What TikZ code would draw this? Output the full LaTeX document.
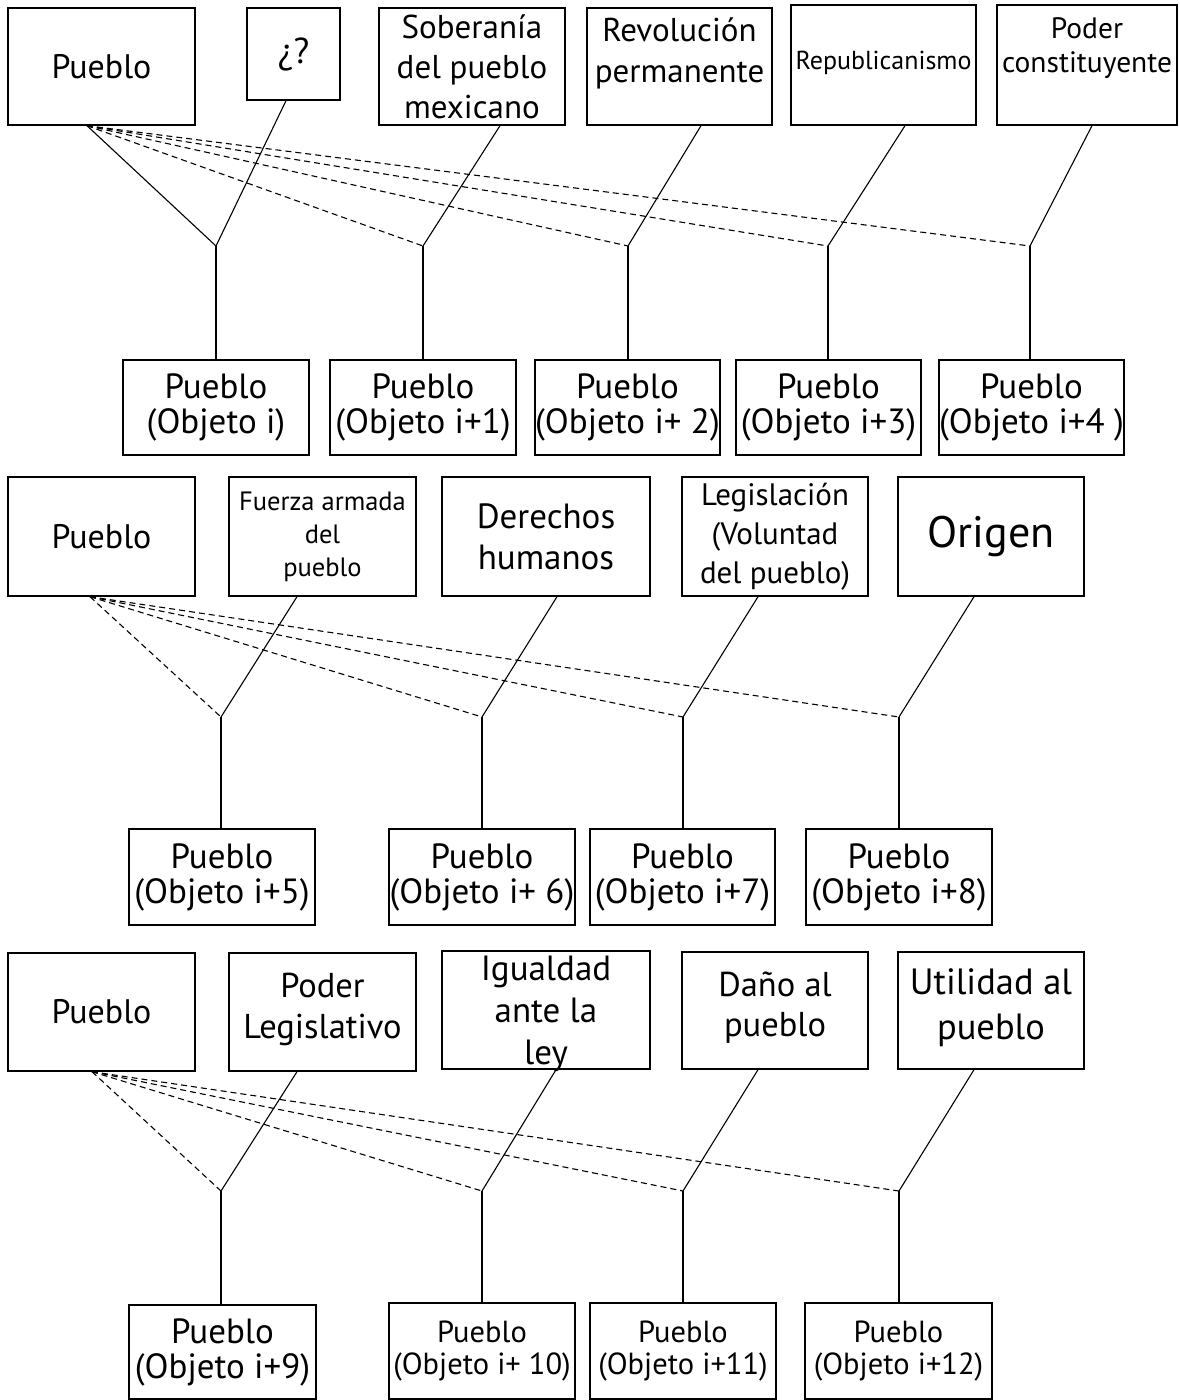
\documentclass[tikz,border=0pt]{standalone}
\usepackage{fontspec}
\setmainfont{PT Sans}
\usetikzlibrary{calc}
\newcommand\fsz[2]{\fontsize{#1}{#2}\selectfont}

\begin{document}
\begin{tikzpicture}[x=1pt,y=-1pt,
  box/.style={draw, line width=1.4pt, inner sep=0pt, align=center, font=\fsz{33}{40}},
  obj/.style={box, font=\fsz{35}{35}},
  lab/.style={align=center, inner sep=0pt},
  conn/.style={line width=1.1pt},
  dconn/.style={line width=1.1pt, dash pattern=on 6pt off 4pt},
]
\useasboundingbox (0,0) rectangle (1179,1400);
\fill[white] (0,0) rectangle (1179,1400);

% ---------------- first group ----------------
\node[box, minimum width=187pt, minimum height=117pt, font=\fsz{34}{40}] (pa) at (101.5,66.5) {Pueblo};
\node[box, minimum width=93pt, minimum height=92pt, font=\fsz{36}{40}] (qa) at (293.5,54) {¿?};
\node[box, minimum width=186pt, minimum height=117pt] (sob) at (472,66.5) {Soberanía\\del pueblo\\mexicano};
\node[box, minimum width=185pt, minimum height=117pt,
  label={[lab, yshift=13pt, font=\fsz{33}{41}]center:Revolución\\permanente}] (rev) at (679.5,66.5) {};
\node[box, minimum width=185pt, minimum height=120pt,
  label={[lab, yshift=2pt, font=\fsz{26}{30}]center:Republicanismo}] (rep) at (883.5,65) {};
\node[box, minimum width=180pt, minimum height=120pt,
  label={[lab, yshift=17pt, font=\fsz{29.5}{34}]center:Poder\\constituyente}] (pc) at (1087,65) {};

\node[obj, minimum width=186pt, minimum height=95pt] (oa0) at (216,407.5) {Pueblo\\(Objeto i)};
\node[obj, minimum width=186pt, minimum height=95pt] (oa1) at (423,407.5) {Pueblo\\(Objeto i+1)};
\node[obj, minimum width=185pt, minimum height=95pt] (oa2) at (627.5,407.5) {Pueblo\\(Objeto i+ 2)};
\node[obj, minimum width=185pt, minimum height=95pt] (oa3) at (828.5,407.5) {Pueblo\\(Objeto i+3)};
\node[obj, minimum width=185pt, minimum height=95pt] (oa4) at (1031.5,407.5) {Pueblo\\(Objeto i+4 )};

\coordinate (ja0) at (216,246);
\coordinate (ja1) at (423,246);
\coordinate (ja2) at (628,246);
\coordinate (ja3) at (828,246);
\coordinate (ja4) at (1030,246);
\coordinate (sa) at ($(pa.south)+(-14.5,0)$);

\draw[conn] (sa) -- (ja0);
\draw[conn] ($(qa.south)+(-7.5,0)$) -- (ja0);
\draw[conn] ($(sob.south)+(28,0)$) -- (ja1);
\draw[conn] ($(rev.south)+(21.5,0)$) -- (ja2);
\draw[conn] ($(rep.south)+(21.5,0)$) -- (ja3);
\draw[conn] ($(pc.south)+(5,0)$) -- (ja4);
\foreach \j in {ja1,ja2,ja3,ja4} \draw[dconn] (sa) -- (\j);
\foreach \j/\o in {ja0/oa0,ja1/oa1,ja2/oa2,ja3/oa3,ja4/oa4} \draw[conn] (\j) -- (\j |- \o.north);

% ---------------- second group ----------------
\node[box, minimum width=187pt, minimum height=119pt, font=\fsz{34}{40}] (pb) at (101.5,536.5) {Pueblo};
\node[box, minimum width=187pt, minimum height=119pt, font=\fsz{26.5}{33}] (fue) at (322.5,536.5) {Fuerza armada\\del\\pueblo};
\node[box, minimum width=208pt, minimum height=119pt, font=\fsz{35}{41}] (der) at (546,536.5) {Derechos\\humanos};
\node[box, minimum width=186pt, minimum height=119pt, font=\fsz{31}{39}] (leg) at (775,536.5) {Legislación\\(Voluntad\\del pueblo)};
\node[box, minimum width=186pt, minimum height=119pt, font=\fsz{44}{48}] (ori) at (991,536.5) {Origen};

\node[obj, minimum width=186pt, minimum height=96pt] (ob0) at (222,877) {Pueblo\\(Objeto i+5)};
\node[obj, minimum width=186pt, minimum height=96pt] (ob1) at (482,877) {Pueblo\\(Objeto i+ 6)};
\node[obj, minimum width=185pt, minimum height=96pt] (ob2) at (682.5,877) {Pueblo\\(Objeto i+7)};
\node[obj, minimum width=186pt, minimum height=96pt] (ob3) at (899,877) {Pueblo\\(Objeto i+8)};

\coordinate (jb0) at (221,717);
\coordinate (jb1) at (482,717);
\coordinate (jb2) at (683,717);
\coordinate (jb3) at (899,717);
\coordinate (sb) at ($(pb.south)+(-11.5,0)$);

\draw[conn] ($(fue.south)+(-25.5,0)$) -- (jb0);
\draw[conn] ($(der.south)+(11,0)$) -- (jb1);
\draw[conn] ($(leg.south)+(-17,0)$) -- (jb2);
\draw[conn] ($(ori.south)+(-17,0)$) -- (jb3);
\foreach \j in {jb0,jb1,jb2,jb3} \draw[dconn] (sb) -- (\j);
\foreach \j/\o in {jb0/ob0,jb1/ob1,jb2/ob2,jb3/ob3} \draw[conn] (\j) -- (\j |- \o.north);

% ---------------- third group ----------------
\node[box, minimum width=187pt, minimum height=118pt, font=\fsz{34}{40}] (pcc) at (101.5,1012) {Pueblo};
\node[box, minimum width=187pt, minimum height=118pt,
  label={[lab, yshift=3pt, font=\fsz{34.5}{41}]center:Poder\\Legislativo}] (pl) at (322.5,1012) {};
\node[box, minimum width=208pt, minimum height=118pt,
  label={[lab, yshift=-4pt, font=\fsz{35}{42}]center:Igualdad\\ante la\\ley}] (igu) at (546,1010) {};
\node[box, minimum width=186pt, minimum height=117pt,
  label={[lab, yshift=3pt, font=\fsz{34.5}{40}]center:Daño al\\pueblo}] (dan) at (775,1010.5) {};
\node[box, minimum width=186pt, minimum height=117pt,
  label={[lab, yshift=3pt, font=\fsz{36.5}{45}]center:Utilidad al\\pueblo}] (uti) at (991,1010.5) {};

\node[obj, minimum width=187pt, minimum height=94pt] (oc0) at (222.5,1352) {Pueblo\\(Objeto i+9)};
\node[obj, minimum width=186pt, minimum height=96pt, font=\fsz{30.5}{32}] (oc1) at (482,1351) {Pueblo\\(Objeto i+ 10)};
\node[obj, minimum width=186pt, minimum height=96pt, font=\fsz{30.5}{32}] (oc2) at (683,1351) {Pueblo\\(Objeto i+11)};
\node[obj, minimum width=187pt, minimum height=96pt, font=\fsz{30.5}{32}] (oc3) at (898.5,1351) {Pueblo\\(Objeto i+12)};

\coordinate (jc0) at (221,1191);
\coordinate (jc1) at (482,1191);
\coordinate (jc2) at (683,1191);
\coordinate (jc3) at (899,1191);
\coordinate (sc) at ($(pcc.south)+(-9.5,0)$);

\draw[conn] ($(pl.south)+(-25.5,0)$) -- (jc0);
\draw[conn] ($(igu.south)+(10,0)$) -- (jc1);
\draw[conn] ($(dan.south)+(-17,0)$) -- (jc2);
\draw[conn] ($(uti.south)+(-17,0)$) -- (jc3);
\foreach \j in {jc0,jc1,jc2,jc3} \draw[dconn] (sc) -- (\j);
\foreach \j/\o in {jc0/oc0,jc1/oc1,jc2/oc2,jc3/oc3} \draw[conn] (\j) -- (\j |- \o.north);
\end{tikzpicture}
\end{document}
